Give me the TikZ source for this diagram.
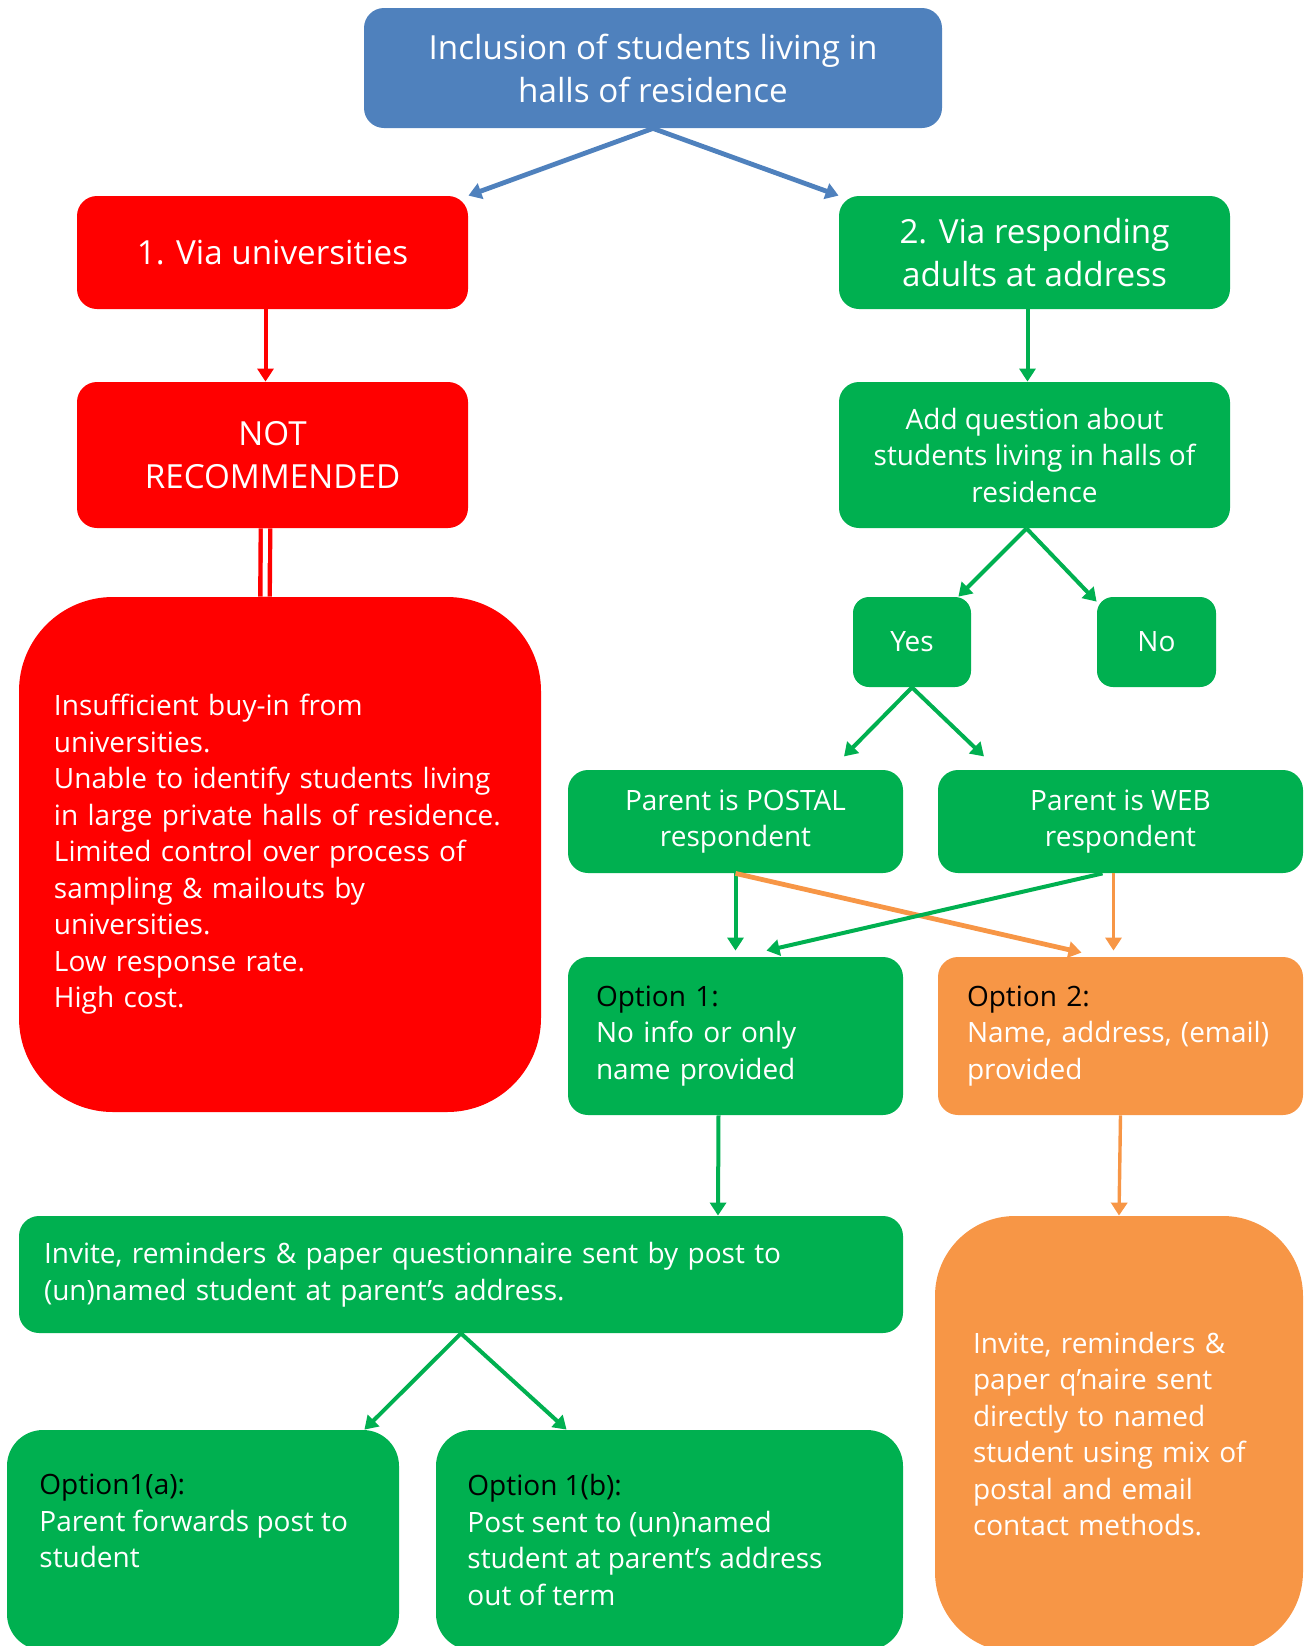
\documentclass[tikz,border=0pt]{standalone}
\usepackage{fontspec}
\setmainfont{Open Sans}
\usetikzlibrary{arrows.meta,calc}
\definecolor{cblue}{HTML}{4F81BD}
\definecolor{cred}{HTML}{FF0000}
\definecolor{cgreen}{HTML}{00B050}
\definecolor{corange}{HTML}{F79646}
\newcommand\fbig{\fontsize{16.6}{21.5}\selectfont}
\newcommand\fsmall{\fontsize{14}{18.25}\selectfont}
\begin{document}
\begin{tikzpicture}[x=0.5pt,y=-0.5pt,
  box/.style={rounded corners=10pt, inner sep=0pt, text=white, align=center, font=\fsmall},
  lbox/.style={box, align=left},
  txt/.style={inner sep=0pt, text=white, align=left, font=\fsmall},
  arr/.style={line width=2pt, -{Triangle[width=8pt,length=6.5pt]}},
]
\useasboundingbox (0,0) rectangle (1306,1646);
% boxes
\node[box, fill=cblue, minimum width=289pt, minimum height=60pt, font=\fbig] (top) at (653,68) {Inclusion of students living in\\halls of residence};
\node[box, fill=cred, minimum width=195.5pt, minimum height=56.5pt, font=\fbig] (v1) at (272.5,252.5) {1. Via universities};
\node[box, fill=cgreen, minimum width=195.5pt, minimum height=56.5pt, font=\fbig] (v2) at (1034.5,252.5) {2. Via responding\\adults at address};
\node[box, fill=cred, minimum width=195.5pt, minimum height=73pt, font=\fbig] (nr) at (272.5,455) {NOT\\RECOMMENDED};
\node[box, fill=cgreen, minimum width=195.5pt, minimum height=73pt] (aq) at (1034.5,455) {Add question about\\students living in halls of\\residence};
\node[lbox, fill=cred, rounded corners=47pt, minimum width=261pt, minimum height=257.5pt, text width=226pt] (why) at (280,854.5) {Insufficient buy-in from\\universities.\\Unable to identify students living\\in large private halls of residence.\\Limited control over process of\\sampling \& mailouts by\\universities.\\Low response rate.\\High cost.};
\node[box, fill=cgreen, rounded corners=8pt, minimum width=59pt, minimum height=45pt] (yes) at (912,642) {Yes};
\node[box, fill=cgreen, rounded corners=8pt, minimum width=59.5pt, minimum height=45pt] (no) at (1156.5,642) {No};
\node[box, fill=cgreen, minimum width=167.5pt, minimum height=51.5pt] (pos) at (735.5,821.5) {Parent is POSTAL\\respondent};
\node[box, fill=cgreen, minimum width=182.5pt, minimum height=51.5pt] (web) at (1120.5,821.5) {Parent is WEB\\respondent};
\node[lbox, fill=cgreen, minimum width=167.5pt, minimum height=79pt, text width=139.5pt] (op1) at (735.5,1036) {{\color{black}Option 1:}\\No info or only\\name provided};
\node[lbox, fill=corange, minimum width=182.5pt, minimum height=79pt, text width=153.5pt] (op2) at (1120.5,1036) {{\color{black}Option 2:}\\Name, address, (email)\\provided};
\node[lbox, fill=cgreen, minimum width=442pt, minimum height=58.5pt, text width=417pt] (inv) at (461,1274.5) {Invite, reminders \& paper questionnaire sent by post to\\(un)named student at parent’s address.};
\node[lbox, fill=corange, rounded corners=40pt, minimum width=184pt, minimum height=218pt, text width=146pt] (dir) at (1119,1434) {Invite, reminders \&\\paper q’naire sent\\directly to named\\student using mix of\\postal and email\\contact methods.};
\node[box, fill=cgreen, rounded corners=18pt, minimum width=196pt, minimum height=110pt] (o1a) at (203,1540) {};
\node[box, fill=cgreen, rounded corners=18pt, minimum width=233.5pt, minimum height=110pt] (o1b) at (669.5,1540) {};
\node[txt, anchor=north west] (o1aT) at (39,1474) {{\color{black}Option1(a):}\\Parent forwards post to\\student};
\node[txt, anchor=north west] (o1bT) at (467,1474) {{\color{black}Option 1(b):}\\Post sent to (un)named\\student at parent’s address\\out of term};
% connectors
\draw[arr, cblue, line width=2.4pt] (top.south) -- (v1.north east);
\draw[arr, cblue, line width=2.4pt] (top.south) -- (v2.north west);
\draw[arr, cred] ($(v1.south)+(-7,0)$) -- ($(nr.north)+(-7,0)$);
\draw[cred, line width=2.2pt, double=white, double distance=2.5pt] ($(nr.south)+(-7,0)$) -- ($(why.north)+(-15,0)$);
\draw[arr, cgreen] ($(v2.south)+(-7,0)$) -- ($(aq.north)+(-7,0)$);
\draw[arr, cgreen] ($(aq.south)+(-8,0)$) -- ($(yes.north east)+(-13,0)$);
\draw[arr, cgreen] ($(aq.south)+(-8,0)$) -- ($(no.north west)+(0,5)$);
\coordinate (yl) at ($(yes.south)+(-68,69)$);
\coordinate (yr) at ($(yes.south)+(72,69)$);
\draw[arr, cgreen] (yes.south) -- (yl);
\draw[arr, cgreen] (yes.south) -- (yr);
\draw[arr, cgreen] (pos.south) -- ($(op1.north)+(0,-6)$);
\draw[arr, corange, line width=2.4pt] (pos.south) -- ($(op2.north)+(-39,-4)$);
\draw[arr, cgreen] ($(web.south)+(-18,0)$) -- ($(op1.north)+(31,-6)$);
\draw[arr, corange, line width=1.7pt] ($(web.south)+(-7,0)$) -- ($(op2.north)+(-7,-6)$);
\draw[arr, cgreen] ($(op1.south)+(-17,0)$) -- ($(inv.north)+(257,0)$);
\draw[arr, corange, line width=1.7pt] (op2.south) -- (dir.north);
\draw[arr, cgreen] (inv.south) -- ($(o1a.north east)+(-35,0)$);
\draw[arr, cgreen] (inv.south) -- ($(o1b.north west)+(131,0)$);
\end{tikzpicture}
\end{document}
